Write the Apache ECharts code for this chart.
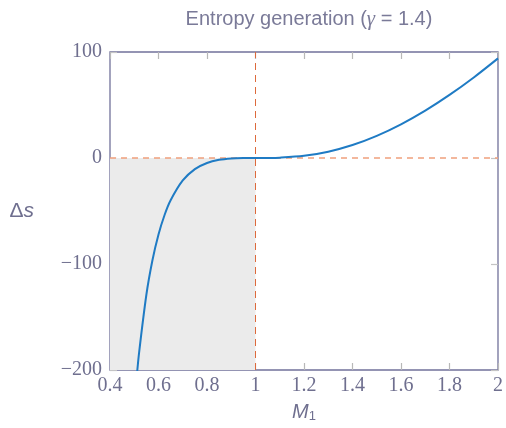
<!DOCTYPE html>
<html>
<head>
<meta charset="utf-8">
<script src="https://cdn.jsdelivr.net/npm/echarts@6/dist/echarts.min.js"></script>
<style>html,body{margin:0;padding:0;background:#fff}#c{width:506px;height:428px}</style>
</head>
<body>
<div id="c"></div>
<script>
// Mach number M1 (x) and entropy change Δs (y)
const machValues = [0.51, 0.52, 0.55, 0.575, 0.6, 0.625, 0.65, 0.7, 0.75, 0.8, 0.85, 0.9, 0.95, 1.0, 1.05, 1.1, 1.2, 1.3, 1.4, 1.5, 1.6, 1.7, 1.8, 1.9, 2.0];
const entropyValues = [-206.8, -183.5, -129.0, -96.5, -72.2, -53.8, -39.9, -21.2, -10.5, -4.7, -1.75, -0.46, -0.06, 0, 0.04, 0.31, 2.07, 5.98, 12.25, 20.9, 31.8, 44.7, 59.5, 76.0, 94.0];
const xTicks = {min: 0.4, max: 2, interval: 0.2};
const yTicks = {min: -200, max: 100, interval: 100};
const shadeX = [0.4, 1];
const shadeY = [-200, 0];
const zeroLineY = 0;
const sonicLineX = 1;

const textColor = '#6f6f8f';
const chart = echarts.init(document.getElementById('c'), null, {renderer: 'canvas'});
const curve = machValues.map((m, i) => [m, entropyValues[i]]);

const tickStyle = {show: true, inside: true, length: 7, lineStyle: {color: '#b8b8b8', width: 1.2}};

chart.setOption({
  animation: false,
  backgroundColor: '#fff',
  title: {
    text: 'Entropy generation ({g|γ} = 1.4)',
    left: 304, textAlign: 'center', top: 4,
    textStyle: {
      fontFamily: 'Liberation Sans', fontSize: 20, fontWeight: 'normal', color: '#7a7a98',
      rich: {g: {fontFamily: 'Liberation Serif', fontStyle: 'italic', fontSize: 21, color: '#7a7a98'}}
    }
  },
  grid: {left: 110, right: 8, top: 52, bottom: 54, show: true, borderColor: '#72729a', borderWidth: 1.3, backgroundColor: 'transparent'},
  xAxis: [{
    type: 'value', min: xTicks.min, max: xTicks.max, interval: xTicks.interval,
    axisLine: {show: false, onZero: false},
    axisTick: tickStyle,
    splitLine: {show: false},
    axisLabel: {fontFamily: 'Liberation Serif', fontSize: 20, color: textColor, margin: 6},
    name: '{i|M}{s|1}', nameLocation: 'middle', nameGap: 32,
    nameTextStyle: {rich: {
      i: {fontFamily: 'Liberation Sans', fontStyle: 'italic', fontSize: 20, color: textColor},
      s: {fontFamily: 'Liberation Sans', fontSize: 13, color: textColor, verticalAlign: 'bottom', padding: [8, 0, 0, 0]}
    }}
  }, {
    type: 'value', position: 'top', min: xTicks.min, max: xTicks.max, interval: xTicks.interval,
    axisLine: {show: false, onZero: false},
    axisTick: tickStyle,
    axisLabel: {show: false}, splitLine: {show: false}
  }],
  yAxis: [{
    type: 'value', min: yTicks.min, max: yTicks.max, interval: yTicks.interval,
    axisLine: {show: false, onZero: false},
    axisTick: {show: true, inside: true, length: 7, lineStyle: {color: '#c4c4c4', width: 1.2}},
    splitLine: {show: false},
    axisLabel: {fontFamily: 'Liberation Serif', fontSize: 20, color: textColor, margin: 8,
      formatter: v => (v < 0 ? '\u2212' + Math.abs(v) : String(v))},
    name: 'Δ{i|s}', nameLocation: 'middle', nameGap: 76, nameRotate: 0,
    nameTextStyle: {fontFamily: 'Liberation Sans', fontSize: 21, color: textColor,
      rich: {i: {fontFamily: 'Liberation Sans', fontStyle: 'italic', fontSize: 21, color: textColor}}}
  }, {
    type: 'value', position: 'right', min: yTicks.min, max: yTicks.max, interval: yTicks.interval,
    axisLine: {show: false, onZero: false},
    axisTick: {show: true, inside: true, length: 7, lineStyle: {color: '#c4c4c4', width: 1.2}},
    axisLabel: {show: false}, splitLine: {show: false}
  }],
  series: [{
    type: 'line', data: curve, showSymbol: false, smooth: 0.3, clip: true, z: 5,
    lineStyle: {color: '#1f7bc4', width: 2},
    markArea: {
      silent: true, z: 1,
      itemStyle: {color: '#ebebeb'},
      data: [[{coord: [shadeX[0], shadeY[0]]}, {coord: [shadeX[1], shadeY[1]]}]]
    },
    markLine: {
      silent: true, symbol: 'none', label: {show: false}, z: 2,
      data: [
        {yAxis: zeroLineY, lineStyle: {color: '#f0a07c', type: [6, 5], width: 1.5}},
        {xAxis: sonicLineX, lineStyle: {color: '#dd6a3c', type: [7, 5], width: 1}}
      ]
    }
  }]
});
</script>
</body>
</html>
